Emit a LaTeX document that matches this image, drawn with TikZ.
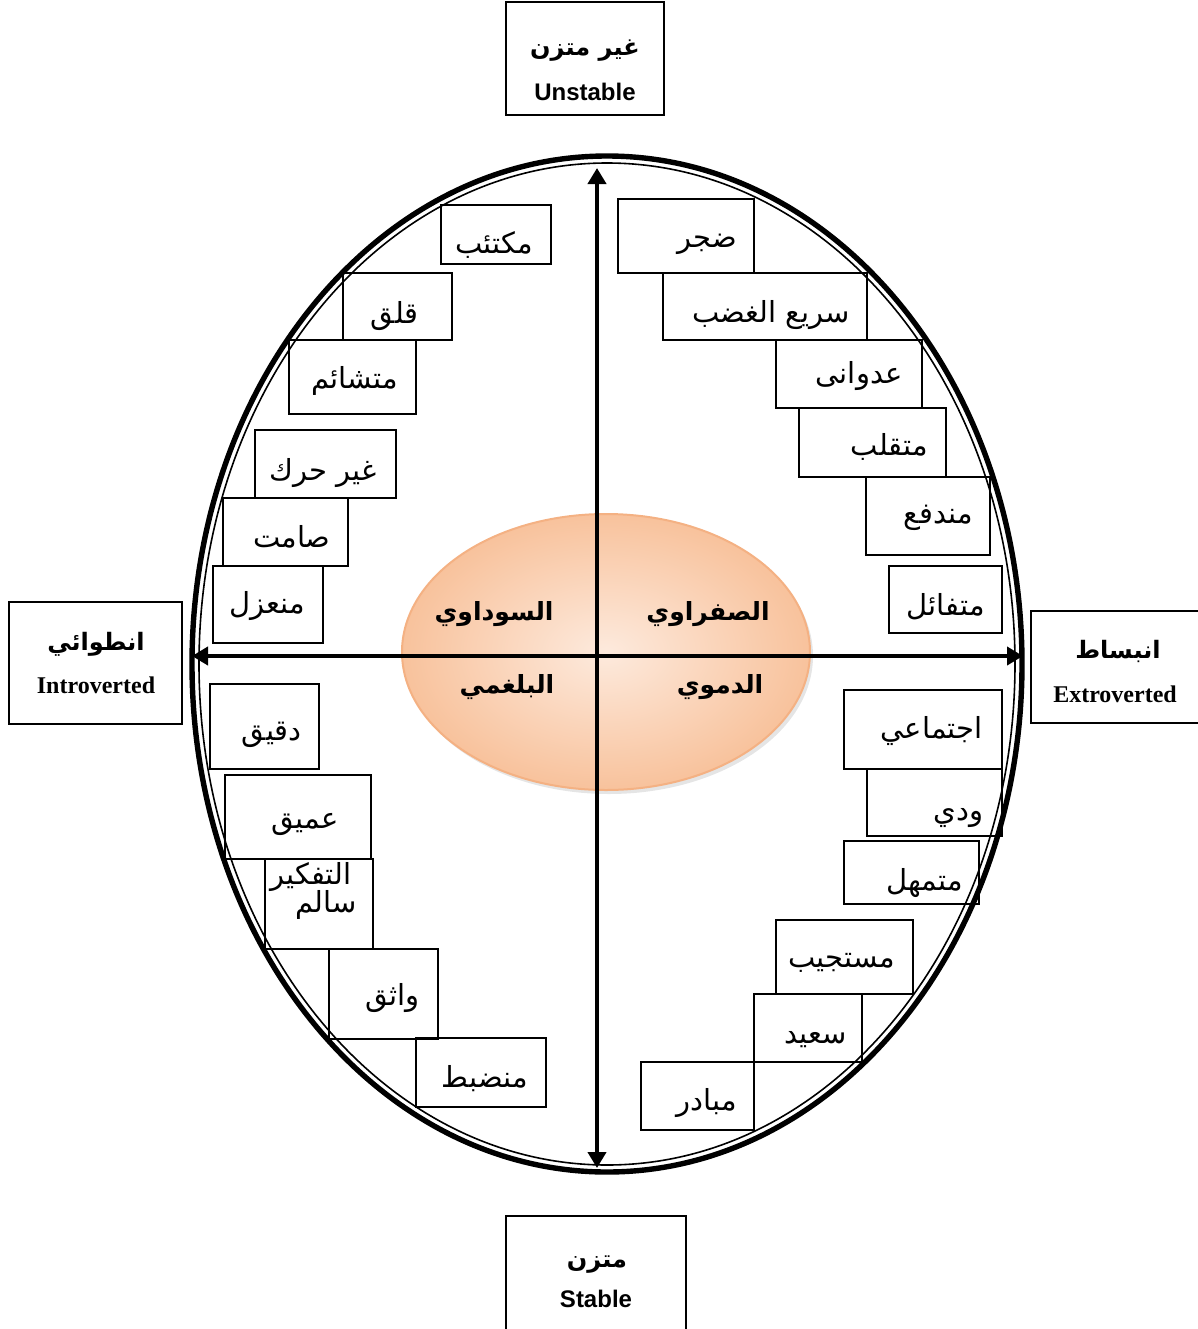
\documentclass[tikz,border=0pt]{standalone}
\usepackage{fontspec}
\setmainfont{Liberation Serif}
\newfontfamily\arabicfont[Script=Arabic]{DejaVu Sans}
\newfontfamily\latinsans{Liberation Sans}
\TeXXeTstate=1
\usetikzlibrary{arrows.meta}
\definecolor{peachlight}{HTML}{FDEADD}
\definecolor{peachdark}{HTML}{F8C29C}
\definecolor{peachrim}{HTML}{F4B183}
\newcommand{\artext}[1]{{\arabicfont\beginR #1\endR}}
\tikzset{
tbox/.style={draw, line width=0.75pt}, % frame of every word box
trait/.style={ % words inside the big ellipse
anchor=base east, inner sep=0pt,
font=\fontsize{14.5}{16}\selectfont},
temper/.style={ % the four temperaments
anchor=base, inner sep=0pt,
font=\fontsize{12.5}{14}\selectfont\bfseries},
pole/.style={ % labels at the ends of the axes
anchor=base, inner sep=0pt,
font=\fontsize{12}{14}\selectfont\bfseries},
rim/.style={line width=2.7pt},
rim inner/.style={line width=0.8pt},
axis/.style={line width=2.2pt,
{Triangle[length=8pt,width=9pt]}-{Triangle[length=8pt,width=9pt]}}}

\begin{document}
\begin{tikzpicture}[x=0.5pt, y=-0.5pt]
	\useasboundingbox (0,0) rectangle (1198,1329);
	% pole boxes
	\draw[tbox] (506,2) rectangle (664,115);
	\node[pole] (unstable-ar) at (585,55) {\artext{غير متزن}};
	\node[pole, font=\fontsize{12}{14}\selectfont\bfseries\latinsans] (unstable-en) at (585,100) {Unstable};
	\draw[tbox] (506,1216) rectangle (686,1340);
	\node[pole] (stable-ar) at (597,1267) {\artext{متزن}};
	\node[pole, font=\fontsize{12}{14}\selectfont\bfseries\latinsans] (stable-en) at (596,1307) {Stable};
	\draw[tbox] (9,602) rectangle (182,724);
	\node[pole] (intro-ar) at (96,650) {\artext{انطوائي}};
	\node[pole] (intro-en) at (96,693) {Introverted};
	\draw[tbox] (1031,611) rectangle (1210,723);
	\node[pole] (extro-ar) at (1118,658) {\artext{انبساط}};
	\node[pole] (extro-en) at (1115,702) {Extroverted};
	% top left quarter
	\draw[tbox] (441,205) rectangle (551,264);
	\node[trait] (depressed) at (533,253) {\artext{مكتئب}};
	\draw[tbox] (343,273) rectangle (452,340);
	\node[trait] (anxious) at (419,323) {\artext{قلق}};
	\draw[tbox] (289,340) rectangle (416,414);
	\node[trait] (pessimist) at (398,388) {\artext{متشائم}};
	\draw[tbox] (255,430) rectangle (396,498);
	\node[trait] (still) at (377,480) {\artext{غير حرك}};
	\draw[tbox] (223,498) rectangle (348,566);
	\node[trait] (silent) at (331,547) {\artext{صامت}};
	\draw[tbox] (213,566) rectangle (323,643);
	\node[trait] (isolated) at (305,613) {\artext{منعزل}};
	% top right quarter
	\draw[tbox] (618,199) rectangle (754,273);
	\node[trait] (bored) at (737,247) {\artext{ضجر}};
	\draw[tbox] (663,273) rectangle (867,340);
	\node[trait] (irritable) at (850,322) {\artext{سريع الغضب}};
	\draw[tbox] (776,340) rectangle (922,408);
	\node[trait] (aggressive) at (903,383) {\artext{عدوانى}};
	\draw[tbox] (799,408) rectangle (946,477);
	\node[trait] (moody) at (928,455) {\artext{متقلب}};
	\draw[tbox] (866,477) rectangle (990,555);
	\node[trait] (impulsive) at (973,523) {\artext{مندفع}};
	\draw[tbox] (889,566) rectangle (1002,633);
	\node[trait] (optimist) at (985,615) {\artext{متفائل}};
	% bottom left quarter
	\draw[tbox] (210,684) rectangle (319,769);
	\node[trait] (precise) at (302,740) {\artext{دقيق}};
	\draw[tbox] (225,775) rectangle (371,859);
	\node[trait] (deep) at (339,828) {\artext{عميق}};
	\draw[tbox] (265,859) rectangle (373,949);
	\node[trait] (thinking) at (352,884) {\artext{التفكير}};
	\node[trait] (sound) at (357,912) {\artext{سالم}};
	\draw[tbox] (329,949) rectangle (438,1039);
	\node[trait] (confident) at (420,1005) {\artext{واثق}};
	\draw[tbox] (416,1038) rectangle (546,1107);
	\node[trait] (disciplined) at (528,1087) {\artext{منضبط}};
	% bottom right quarter
	\draw[tbox] (844,690) rectangle (1002,769);
	\node[trait] (social) at (983,738) {\artext{اجتماعي}};
	\draw[tbox] (867,769) rectangle (1002,836);
	\node[trait] (friendly) at (984,820) {\artext{ودي}};
	\draw[tbox] (844,841) rectangle (979,904);
	\node[trait] (patient) at (963,890) {\artext{متمهل}};
	\draw[tbox] (776,920) rectangle (913,994);
	\node[trait] (responsive) at (895,967) {\artext{مستجيب}};
	\draw[tbox] (754,994) rectangle (862,1062);
	\node[trait] (happy) at (847,1043) {\artext{سعيد}};
	\draw[tbox] (641,1062) rectangle (754,1130);
	\node[trait] (initiator) at (737,1110) {\artext{مبادر}};
	% big ellipse
	\draw[rim] (607,664) ellipse (415 and 508);
	\draw[rim inner] (607,664) ellipse (408 and 501);
	% temperament ellipse
	\fill[black!10] (609,656) ellipse (204 and 138);
	\shadedraw[inner color=peachlight, outer color=peachdark, draw=peachrim, line width=1pt] (606,652) ellipse (204 and 138);
	% axes
	\coordinate (top) at (597,168);
	\coordinate (bottom) at (597,1168);
	\coordinate (left) at (192,656);
	\coordinate (right) at (1023,656);
	\draw[axis] (bottom) -- (top);
	\draw[axis] (left) -- (right);
	\node[temper] (choleric) at (708,620) {\artext{الصفراوي}};
	\node[temper] (melancholic) at (494,620) {\artext{السوداوي}};
	\node[temper] (phlegmatic) at (507,693) {\artext{البلغمي}};
	\node[temper] (sanguine) at (720,693) {\artext{الدموي}};
\end{tikzpicture}
\end{document}
